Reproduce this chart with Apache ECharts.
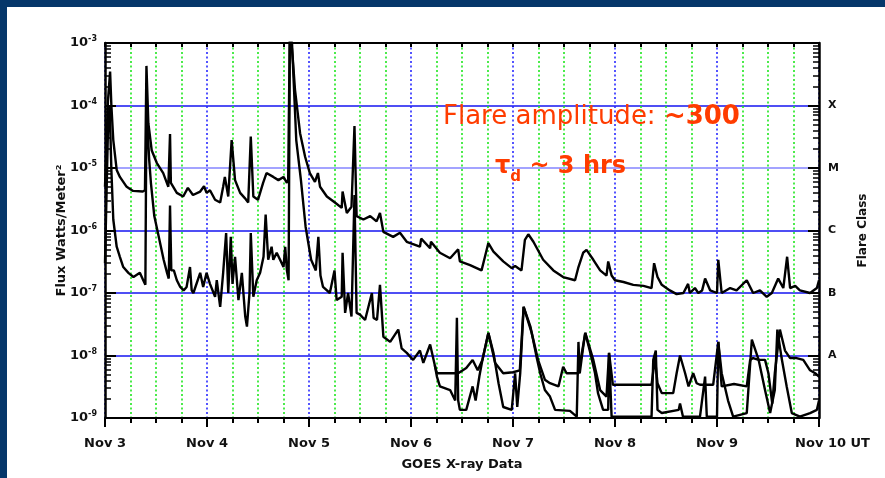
<!DOCTYPE html>
<html>
<head>
<meta charset="utf-8">
<script src="https://cdn.jsdelivr.net/npm/echarts@6/dist/echarts.min.js"></script>
<style>
  html, body { margin: 0; padding: 0; background: #ffffff; }
  #chart { width: 885px; height: 478px; }
</style>
</head>
<body>
<div id="chart"></div>
<script>
// hours after Nov 3 00:00 UT, flux in W/m^2
const longChannel = [
  [0, 5e-6], [0.7, 1.2e-4], [1.2, 3.5e-4], [1.5, 1.0e-4], [1.95, 2.8e-5], [2.75, 9.3e-6], [3.5, 7.2e-6],
  [5.1, 5.0e-6], [6.6, 4.3e-6], [8.9, 4.2e-6], [9.4, 4.4e-6], [9.75, 4.3e-4], [10.2, 5.2e-5], [11.0, 1.9e-5],
  [12.2, 1.2e-5], [13.7, 8.3e-6], [14.9, 5.0e-6], [15.3, 3.5e-5], [15.5, 5.8e-6], [16.9, 4.0e-6], [18.4, 3.5e-6],
  [19.5, 4.8e-6], [20.7, 3.7e-6], [22.4, 4.2e-6], [23.3, 5.1e-6], [23.9, 4.0e-6], [24.7, 4.4e-6], [25.9, 3.1e-6],
  [27.1, 2.8e-6], [27.8, 5.0e-6], [28.2, 7.2e-6], [29.0, 3.5e-6], [29.8, 2.8e-5], [30.6, 6.4e-6], [31.8, 4.0e-6],
  [32.9, 3.3e-6], [33.7, 2.8e-6], [34.3, 3.2e-5], [34.9, 3.5e-6], [36.0, 3.1e-6], [37.2, 5.8e-6], [38.0, 8.3e-6],
  [39.6, 7.2e-6], [40.8, 6.4e-6], [42.0, 7.2e-6], [42.8, 5.8e-6], [43.1, 6.4e-6], [43.5, 2e-3], [44.2, 5.4e-4],
  [44.7, 1.8e-4], [45.9, 3.6e-5], [47.1, 1.5e-5], [48.2, 8.3e-6], [49.4, 6.0e-6], [50.1, 8.3e-6], [50.6, 5.0e-6],
  [52.2, 3.5e-6], [54.1, 2.8e-6], [55.7, 2.3e-6], [55.9, 4.2e-6], [56.9, 1.9e-6], [58.0, 2.4e-6], [58.7, 4.7e-5],
  [59.2, 1.7e-6], [60.8, 1.5e-6], [62.4, 1.7e-6], [63.9, 1.4e-6], [64.7, 1.9e-6], [65.5, 9.5e-7], [67.8, 7.9e-7],
  [69.4, 9.2e-7], [71.0, 6.6e-7], [74.1, 5.5e-7], [74.4, 7.4e-7], [76.5, 5.2e-7], [76.7, 6.6e-7], [78.8, 4.4e-7],
  [81.2, 3.6e-7], [83.1, 5.0e-7], [83.5, 3.2e-7], [85.9, 2.8e-7], [88.6, 2.3e-7], [89.4, 3.8e-7], [90.2, 6.3e-7],
  [91.4, 4.6e-7], [93.7, 3.2e-7], [95.7, 2.5e-7], [96.5, 2.7e-7], [98.0, 2.3e-7], [98.8, 7.1e-7], [99.6, 8.7e-7],
  [100.8, 6.6e-7], [103.1, 3.4e-7], [105.5, 2.3e-7], [107.8, 1.8e-7], [110.6, 1.6e-7], [111.4, 2.6e-7], [112.5, 4.4e-7],
  [113.3, 4.9e-7], [114.9, 3.4e-7], [116.5, 2.3e-7], [118.0, 1.9e-7], [118.4, 3.2e-7], [119.2, 1.9e-7], [120.0, 1.6e-7],
  [122.0, 1.5e-7], [124.3, 1.35e-7], [126.7, 1.3e-7], [128.6, 1.2e-7], [129.2, 3.0e-7], [130.0, 1.8e-7], [131.0, 1.35e-7],
  [132.9, 1.1e-7], [134.5, 9.6e-8], [136.1, 1.0e-7], [137.2, 1.4e-7], [137.6, 1.0e-7], [138.8, 1.2e-7], [139.6, 1.0e-7],
  [140.5, 1.1e-7], [141.2, 1.7e-7], [142.4, 1.1e-7], [144.0, 1.0e-7], [144.3, 3.4e-7], [145.1, 1.0e-7], [147.1, 1.2e-7],
  [148.6, 1.1e-7], [151.0, 1.6e-7], [152.5, 1.0e-7], [154.1, 1.1e-7], [155.7, 8.7e-8], [156.9, 1.0e-7], [158.4, 1.7e-7],
  [159.6, 1.2e-7], [160.5, 3.8e-7], [161.2, 1.2e-7], [162.4, 1.3e-7], [163.5, 1.1e-7], [165.9, 1.0e-7], [167.5, 1.2e-7],
  [168, 1.6e-7]
];

const shortChannelA = [
  [0, 3e-7], [0.7, 4.1e-5], [1.1, 1.0e-4], [1.5, 9.3e-6], [1.95, 1.5e-6], [2.75, 5.5e-7], [3.5, 3.8e-7], [4.3, 2.6e-7],
  [5.5, 2.1e-7], [6.7, 1.8e-7], [8.2, 2.1e-7], [9.0, 1.6e-7], [9.5, 1.35e-7], [9.75, 9.5e-5], [10.4, 1.35e-5],
  [10.8, 5.8e-6], [11.6, 1.7e-6], [12.8, 7.1e-7], [13.8, 3.4e-7], [14.6, 2.1e-7], [15.0, 1.7e-7], [15.3, 2.5e-6],
  [15.6, 2.3e-7], [16.2, 2.3e-7], [16.9, 1.6e-7], [17.7, 1.25e-7], [18.5, 1.1e-7], [19.2, 1.25e-7], [20.0, 2.6e-7],
  [20.4, 1.1e-7], [20.8, 1.0e-7], [22.4, 2.1e-7], [23.1, 1.25e-7], [23.9, 2.1e-7], [24.7, 1.4e-7], [25.9, 8.7e-8],
  [26.3, 1.6e-7], [27.1, 6.0e-8], [27.8, 2.1e-7], [28.5, 9.1e-7], [29.0, 1.0e-7], [29.6, 7.9e-7], [30.0, 1.4e-7],
  [30.6, 3.8e-7], [31.4, 7.7e-8], [32.2, 2.1e-7], [33.0, 4.2e-8], [33.4, 2.9e-8], [34.0, 1.0e-7], [34.3, 9.1e-7],
  [34.9, 8.7e-8], [35.7, 1.6e-7], [36.5, 2.1e-7], [37.3, 3.8e-7], [37.8, 1.8e-6], [38.4, 3.4e-7], [39.2, 5.5e-7],
  [39.6, 3.4e-7], [40.4, 4.4e-7], [41.2, 3.4e-7], [42.0, 2.6e-7], [42.4, 5.5e-7], [42.8, 2.3e-7], [43.2, 1.6e-7],
  [43.5, 1.5e-3], [44.0, 1.0e-3], [45.0, 2.8e-5], [46.1, 6.4e-6], [47.2, 1.15e-6], [48.5, 3.4e-7], [49.6, 2.3e-7],
  [50.2, 7.9e-7], [50.7, 1.9e-7], [51.3, 1.25e-7], [52.9, 1.0e-7], [54.0, 2.3e-7], [54.5, 7.7e-8], [55.7, 8.7e-8],
  [55.9, 4.4e-7], [56.5, 4.8e-8], [57.2, 1.0e-7], [58.0, 4.2e-8], [58.7, 3.7e-6], [59.2, 4.8e-8], [60.0, 4.5e-8],
  [61.2, 3.7e-8], [62.8, 1.0e-7], [63.2, 4.0e-8], [64.0, 3.7e-8], [64.7, 1.35e-7], [65.5, 2.0e-8], [67.1, 1.65e-8],
  [69.0, 2.6e-8], [69.8, 1.3e-8], [71.0, 1.1e-8], [72.5, 8.5e-9], [74.1, 1.2e-8], [74.9, 7.6e-9], [76.5, 1.5e-8],
  [77.6, 7.0e-9], [78.1, 4.6e-9], [78.8, 3.2e-9], [81.2, 2.8e-9], [82.4, 1.9e-9], [82.8, 4.0e-8], [83.1, 1.9e-9],
  [83.5, 1.35e-9], [85.0, 1.35e-9], [86.5, 3.2e-9], [87.2, 1.9e-9], [88.1, 4.7e-9], [88.8, 8.5e-9], [90.2, 2.3e-8],
  [91.4, 1.1e-8], [92.6, 3.6e-9], [93.7, 1.5e-9], [95.7, 1.35e-9], [96.5, 5.2e-9], [97.0, 1.5e-9], [97.7, 5.2e-9],
  [98.5, 6.0e-8], [100.1, 2.9e-8], [101.6, 9.1e-9], [102.4, 5.2e-9], [103.5, 2.8e-9], [104.7, 2.2e-9], [105.9, 1.35e-9],
  [109.4, 1.3e-9], [111.0, 1.05e-9], [111.4, 1.65e-8], [111.7, 5.2e-9], [112.5, 1.35e-8], [113.0, 2.3e-8],
  [114.2, 1.1e-8], [115.3, 5.2e-9], [116.0, 2.5e-9], [117.2, 1.35e-9], [118.4, 1.35e-9], [118.6, 1.1e-8],
  [119.2, 1.05e-9], [128.6, 1.05e-9], [129.0, 8.5e-9], [129.6, 1.2e-8], [130.0, 1.35e-9], [131.0, 1.2e-9],
  [135.0, 1.35e-9], [135.3, 1.7e-9], [136.0, 1.05e-9], [140.0, 1.05e-9], [141.2, 4.6e-9], [141.6, 1.05e-9],
  [144.0, 1.05e-9], [144.3, 1.65e-8], [145.1, 5.2e-9], [146.6, 1.9e-9], [147.8, 1.05e-9], [151.0, 1.2e-9],
  [152.2, 1.8e-8], [153.8, 8.5e-9], [155.3, 2.8e-9], [156.5, 1.2e-9], [157.6, 2.8e-9], [158.2, 2.6e-8],
  [159.2, 9.1e-9], [160.4, 3.2e-9], [161.6, 1.2e-9], [163.5, 1.05e-9], [165.9, 1.2e-9], [167.5, 1.35e-9], [168, 1.9e-9]
];

const shortChannelB = [
  [77.6, 7.0e-9], [78.1, 5.2e-9], [83.1, 5.2e-9], [85.0, 6.3e-9], [86.5, 8.5e-9], [87.7, 5.8e-9], [88.8, 8.5e-9],
  [90.2, 2.3e-8], [91.8, 7.6e-9], [93.7, 5.2e-9], [96.0, 5.4e-9], [97.6, 5.8e-9], [98.5, 6.0e-8], [100.4, 2.3e-8],
  [101.9, 8.5e-9], [103.5, 4.1e-9], [104.7, 3.6e-9], [106.7, 3.2e-9], [107.8, 6.6e-9], [108.6, 5.2e-9],
  [111.4, 5.2e-9], [113.0, 2.3e-8], [114.9, 8.5e-9], [116.5, 2.8e-9], [118.0, 2.2e-9], [118.6, 1.1e-8],
  [119.5, 3.4e-9], [128.6, 3.4e-9], [129.4, 9.1e-9], [130.0, 3.6e-9], [131.0, 2.5e-9], [133.7, 2.5e-9],
  [134.5, 5.2e-9], [135.3, 1.0e-8], [136.5, 5.2e-9], [137.3, 3.2e-9], [138.4, 5.2e-9], [139.2, 3.6e-9],
  [140.0, 3.4e-9], [143.1, 3.4e-9], [144.3, 1.65e-8], [145.1, 3.2e-9], [148.0, 3.5e-9], [151.0, 3.2e-9],
  [151.8, 8.5e-9], [152.5, 9.1e-9], [153.8, 8.5e-9], [155.3, 8.5e-9], [156.1, 5.2e-9], [157.0, 1.7e-9],
  [157.6, 5.2e-9], [158.8, 2.6e-8], [160.0, 1.2e-8], [161.2, 9.1e-9], [162.7, 9.1e-9], [164.3, 8.5e-9],
  [165.9, 5.8e-9], [167.1, 5.2e-9], [168, 4.6e-9]
];

const dayLabels = ["Nov 3", "Nov 4", "Nov 5", "Nov 6", "Nov 7", "Nov 8", "Nov 9", "Nov 10"];
const flareClasses = ["A", "B", "C", "M", "X"];
const flareClassExponents = [-8, -7, -6, -5, -4];
const decadeExponents = [-9, -8, -7, -6, -5, -4];
const minorMultipliers = [2, 3, 4, 5, 6, 7, 8, 9];

const totalHours = 168;
const font = "DejaVu Sans";
const navy = "#05376a";
const blue = "#1414f0";
const lightBlue = "#8484ff";
const green = "#1ee61e";
const dayBlue = "#2a2aff";

const minorTickValues = [];
decadeExponents.forEach(e => {
  minorMultipliers.forEach(m => minorTickValues.push(m * Math.pow(10, e)));
});

function exponentOf(v) {
  return Math.round(Math.log10(v));
}

const chart = echarts.init(document.getElementById("chart"), null, { renderer: "canvas" });

const baseY = { type: "log", logBase: 10, min: 1e-9, max: 1e-3 };

chart.setOption({
  animation: false,
  backgroundColor: "#ffffff",
  grid: { left: 105, right: 66, top: 43, bottom: 60, outerBoundsMode: "none" },
  xAxis: [
    {
      type: "value", min: 0, max: totalHours, interval: 6, position: "bottom",
      axisLine: { onZero: false, lineStyle: { color: "#000", width: 2 } },
      axisTick: { length: 5, lineStyle: { color: "#000", width: 2 } },
      axisLabel: { show: false },
      splitLine: {
        show: true,
        lineStyle: { color: [dayBlue, green, green, green], width: 1.6, type: [2, 2.5] }
      }
    },
    {
      type: "value", min: 0, max: totalHours, interval: 24, position: "bottom",
      axisLine: { show: false, onZero: false },
      axisTick: { length: 9, lineStyle: { color: "#000", width: 2 } },
      splitLine: { show: false },
      axisLabel: {
        margin: 19,
        formatter(value) {
          const i = Math.round(value / 24);
          if (i === dayLabels.length - 1) return "{pad|}{d|" + dayLabels[i] + " UT}";
          return "{d|" + dayLabels[i] + "}";
        },
        rich: {
          d: { fontFamily: font, fontSize: 13, fontWeight: "bold", color: "#111" },
          pad: { width: 27 }
        }
      },
      name: "GOES X-ray Data",
      nameLocation: "middle",
      nameGap: 40,
      nameMoveOverlap: false,
      nameTextStyle: { fontFamily: font, fontSize: 13, fontWeight: "bold", color: "#111" }
    },
    {
      type: "value", min: 0, max: totalHours, interval: 6, position: "top",
      axisLine: { onZero: false, lineStyle: { color: "#000", width: 2 } },
      axisTick: { inside: true, length: 4, lineStyle: { color: "#000", width: 2 } },
      axisLabel: { show: false },
      splitLine: { show: false }
    }
  ],
  yAxis: [
    Object.assign({}, baseY, {
      position: "left", interval: 1,
      axisLine: { onZero: false, lineStyle: { color: "#000", width: 2.5 } },
      axisTick: { inside: true, length: 11, lineStyle: { color: "#000", width: 2 } },
      axisLabel: {
        margin: 8,
        formatter(value) {
          return "{b|10}{s|" + exponentOf(value) + "}";
        },
        rich: {
          b: { fontFamily: font, fontSize: 13, fontWeight: "bold", color: "#111", lineHeight: 16 },
          s: { fontFamily: font, fontSize: 8, fontWeight: "bold", color: "#111", lineHeight: 8, verticalAlign: "top" }
        }
      },
      splitLine: {
        show: true,
        lineStyle: {
          color: ["rgba(0,0,0,0)", blue, blue, blue, lightBlue, blue, "rgba(0,0,0,0)"],
          width: 1.6
        }
      },
      name: "Flux Watts/Meter\u00b2",
      nameLocation: "middle",
      nameGap: 37,
      nameMoveOverlap: false,
      nameTextStyle: { fontFamily: font, fontSize: 13, fontWeight: "bold", color: "#111" }
    }),
    Object.assign({}, baseY, {
      position: "left",
      axisLine: { show: false, onZero: false },
      axisTick: { inside: true, length: 6, customValues: minorTickValues, lineStyle: { color: "#000", width: 1.5 } },
      axisLabel: { show: false },
      splitLine: { show: false }
    }),
    Object.assign({}, baseY, {
      position: "right", interval: 1,
      axisLine: { onZero: false, lineStyle: { color: "#000", width: 2.5 } },
      axisTick: { inside: true, length: 11, lineStyle: { color: "#000", width: 2 } },
      axisLabel: {
        margin: 9,
        fontFamily: font, fontSize: 11, fontWeight: "bold", color: "#111",
        formatter(value) {
          const i = flareClassExponents.indexOf(exponentOf(value));
          return i >= 0 ? flareClasses[i] : "";
        }
      },
      splitLine: { show: false },
      name: "Flare Class",
      nameLocation: "middle",
      nameGap: 38,
      nameMoveOverlap: false,
      nameTextStyle: { fontFamily: font, fontSize: 12, fontWeight: "bold", color: "#111" }
    }),
    Object.assign({}, baseY, {
      position: "right",
      axisLine: { show: false, onZero: false },
      axisTick: { inside: true, length: 6, customValues: minorTickValues, lineStyle: { color: "#000", width: 1.5 } },
      axisLabel: { show: false },
      splitLine: { show: false }
    })
  ],
  series: [
    { name: "1-8 A", data: longChannel },
    { name: "0.5-4 A", data: shortChannelA },
    { name: "0.5-4 A (2)", data: shortChannelB }
  ].map(s => ({
    name: s.name,
    type: "line",
    xAxisIndex: 0,
    yAxisIndex: 0,
    data: s.data,
    showSymbol: false,
    symbol: "none",
    clip: true,
    z: 5,
    lineStyle: { color: "#000", width: 2.4 }
  })),
  graphic: [
    { type: "rect", shape: { x: 0, y: 0, width: 885, height: 7 }, style: { fill: navy }, z: 200 },
    { type: "rect", shape: { x: 0, y: 0, width: 7, height: 478 }, style: { fill: navy }, z: 200 },
    {
      type: "text", x: 443, y: 117, z: 100,
      style: {
        text: "{a|Flare amplitude: }{b|~300}",
        textAlign: "left", textVerticalAlign: "middle",
        rich: {
          a: { fontFamily: font, fontSize: 26, fill: "#ff3c00", lineHeight: 30 },
          b: { fontFamily: font, fontSize: 26, fontWeight: "bold", fill: "#ff3c00", lineHeight: 30 }
        }
      }
    },
    {
      type: "text", x: 495, y: 167, z: 100,
      style: {
        text: "{t|\u03c4}{s|d}{t| ~ 3 hrs}",
        textAlign: "left", textVerticalAlign: "middle",
        rich: {
          t: { fontFamily: font, fontSize: 24, fontWeight: "bold", fill: "#ff3c00", lineHeight: 36 },
          s: { fontFamily: font, fontSize: 15, fontWeight: "bold", fill: "#ff3c00", lineHeight: 15, verticalAlign: "bottom" }
        }
      }
    }
  ]
});
</script>
</body>
</html>
